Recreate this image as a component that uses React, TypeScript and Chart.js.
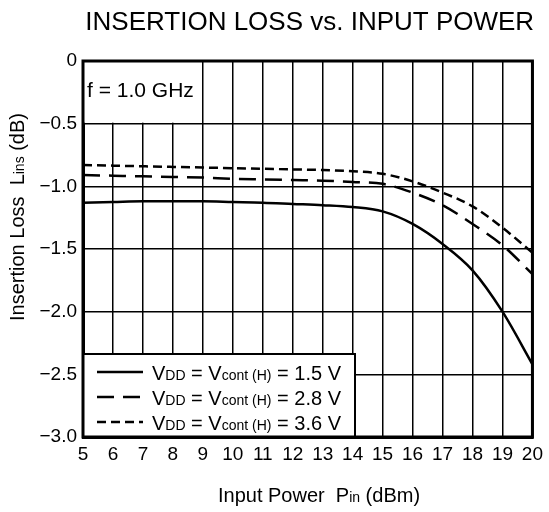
import React, { useEffect, useRef } from "react";
import { Chart, registerables } from "chart.js";

Chart.register(...registerables);

const pinDbm = [5, 6, 7, 8, 9, 10, 11, 12, 13, 14, 15, 16, 17, 18, 19, 20];
const loss15V = [-1.13, -1.125, -1.12, -1.12, -1.12, -1.125, -1.13, -1.14, -1.15, -1.165, -1.2, -1.3, -1.46, -1.67, -2.0, -2.42];
const loss28V = [-0.91, -0.915, -0.92, -0.925, -0.93, -0.94, -0.945, -0.95, -0.955, -0.965, -0.98, -1.05, -1.15, -1.3, -1.47, -1.7];
const loss36V = [-0.83, -0.835, -0.84, -0.845, -0.85, -0.855, -0.86, -0.865, -0.87, -0.88, -0.9, -0.96, -1.05, -1.16, -1.33, -1.53];
const supplyVolts = ["1.5", "2.8", "3.6"];
const yTickLabels = ["\u22123.0", "\u22122.5", "\u22122.0", "\u22121.5", "\u22121.0", "\u22120.5", "0"];

const FONT = "'Liberation Sans', Arial, Helvetica, sans-serif";

type Part = [string, number];

function richWidth(ctx: CanvasRenderingContext2D, parts: Part[]) {
  let w = 0;
  for (const [t, s] of parts) {
    ctx.font = `${s}px ${FONT}`;
    w += ctx.measureText(t).width;
  }
  return w;
}

function drawRich(ctx: CanvasRenderingContext2D, parts: Part[], x: number, y: number, align: "left" | "center") {
  let cx = align === "center" ? x - richWidth(ctx, parts) / 2 : x;
  ctx.textAlign = "left";
  ctx.textBaseline = "alphabetic";
  for (const [t, s] of parts) {
    ctx.font = `${s}px ${FONT}`;
    ctx.fillText(t, cx, y);
    cx += ctx.measureText(t).width;
  }
}

const decorPlugin = {
  id: "decor",
  afterDraw(chart: any) {
    const ctx: CanvasRenderingContext2D = chart.ctx;
    const a = chart.chartArea;
    const xs = chart.scales.x;
    const ys = chart.scales.y;
    ctx.save();

    // annotation cell (covers grid)
    const ax = xs.getPixelForValue(9);
    const ay = ys.getPixelForValue(-0.5);
    ctx.fillStyle = "#fff";
    ctx.fillRect(a.left, a.top, ax - a.left - 1, ay - a.top - 1);

    ctx.fillStyle = "#000";
    // title
    ctx.font = `26px ${FONT}`;
    ctx.textAlign = "center";
    ctx.textBaseline = "alphabetic";
    ctx.fillText("INSERTION LOSS vs. INPUT POWER", (a.left + a.right) / 2 + 2, 30);

    // annotation
    drawRich(ctx, [["f = 1.0 GHz", 21]], a.left + 4, 97, "left");

    // x title
    drawRich(ctx, [["Input Power  P", 20], ["in", 14], [" (dBm)", 20]], 319, 502, "center");

    // y title
    ctx.save();
    ctx.translate(24, 217);
    ctx.rotate(-Math.PI / 2);
    drawRich(ctx, [["Insertion Loss  L", 20], ["ins", 14], [" (dB)", 20]], 0, 0, "center");
    ctx.restore();

    // legend
    const bx = a.left, by = 354, bw = 355 - a.left, bh = a.bottom - 354;
    ctx.fillStyle = "#fff";
    ctx.fillRect(bx, by, bw, bh);
    ctx.strokeStyle = "#000";
    ctx.lineWidth = 2;
    ctx.strokeRect(bx, by, bw, bh);

    // frame
    ctx.lineWidth = 3;
    ctx.strokeRect(a.left, a.top, a.right - a.left, a.bottom - a.top);

    const rows = [372, 397, 422];
    chart.data.datasets.forEach((ds: any, i: number) => {
      const y = rows[i];
      ctx.save();
      ctx.strokeStyle = "#000";
      ctx.lineWidth = ds.borderWidth;
      ctx.setLineDash(ds.borderDash || []);
      ctx.beginPath();
      ctx.moveTo(97, y);
      ctx.lineTo(143, y);
      ctx.stroke();
      ctx.restore();
      ctx.fillStyle = "#000";
      drawRich(
        ctx,
        [["V", 20], ["DD", 14], [" = V", 20], ["cont (H)", 14], [` = ${supplyVolts[i]} V`, 20]],
        152,
        y + 8,
        "left"
      );
    });
    ctx.restore();
  },
};

export default function App() {
  const ref = useRef<HTMLCanvasElement>(null);
  useEffect(() => {
    if (!ref.current) return;
    const mk = (vals: number[]) => pinDbm.map((x, i) => ({ x, y: vals[i] }));
    const chart = new Chart(ref.current, {
      type: "line",
      data: {
        datasets: [
          { label: "1.5", data: mk(loss15V), borderColor: "#000", borderWidth: 2.5, borderDash: [], pointRadius: 0, cubicInterpolationMode: "monotone" },
          { label: "2.8", data: mk(loss28V), borderColor: "#000", borderWidth: 2.5, borderDash: [17, 9], pointRadius: 0, cubicInterpolationMode: "monotone" },
          { label: "3.6", data: mk(loss36V), borderColor: "#000", borderWidth: 2.5, borderDash: [9, 5], pointRadius: 0, cubicInterpolationMode: "monotone" },
        ] as any,
      },
      options: {
        responsive: false,
        animation: false,
        layout: { padding: { top: 61, right: 14, left: 0, bottom: 0 } },
        plugins: { legend: { display: false }, title: { display: false }, tooltip: { enabled: false } },
        scales: {
          x: {
            type: "linear",
            min: 5,
            max: 20,
            ticks: { stepSize: 1, color: "#000", font: { family: FONT, size: 19 }, padding: 6, maxRotation: 0, autoSkip: false },
            grid: { color: "#000", lineWidth: 1.5, drawTicks: false },
            border: { color: "#000", width: 3 },
            afterFit: (s: any) => { s.height = 75; },
          },
          y: {
            type: "linear",
            min: -3,
            max: 0,
            ticks: { stepSize: 0.5, color: "#000", font: { family: FONT, size: 19 }, padding: 6, callback: (_v: any, i: number) => yTickLabels[i] },
            grid: { color: "#000", lineWidth: 1.5, drawTicks: false },
            border: { color: "#000", width: 3 },
            afterFit: (s: any) => { s.width = 83; },
          },
        },
      } as any,
      plugins: [decorPlugin],
    });
    return () => chart.destroy();
  }, []);
  return (
    <div style={{ position: "absolute", left: 0, top: 0, width: 549, height: 512, background: "#fff" }}>
      <canvas ref={ref} width={549} height={512} style={{ display: "block" }} />
    </div>
  );
}
